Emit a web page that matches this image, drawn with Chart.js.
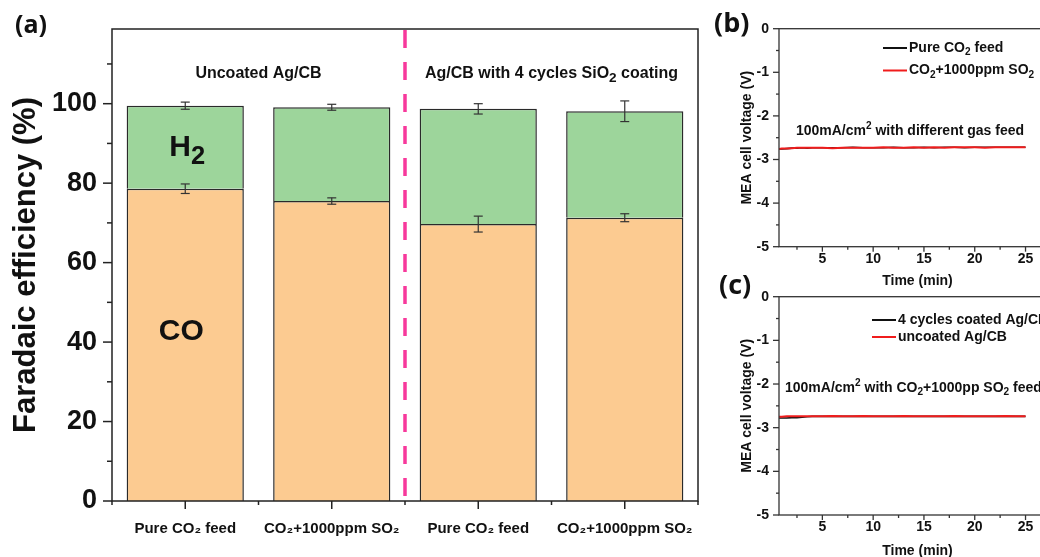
<!DOCTYPE html>
<html><head><meta charset="utf-8">
<script src="https://cdn.jsdelivr.net/npm/chart.js@4/dist/chart.umd.min.js"></script>
<style>
html,body{margin:0;padding:0;background:#fff;overflow:hidden;width:1040px;height:557px;position:relative;}
.panel{position:absolute;}
canvas{display:block;}
</style></head><body>
<div class="panel" style="left:0;top:0;width:705px;height:557px"><canvas id="ca" width="705" height="557"></canvas></div>
<div class="panel" style="left:700px;top:0;width:361px;height:290px"><canvas id="cb" width="361" height="290"></canvas></div>
<div class="panel" style="left:700px;top:270px;width:361px;height:290px"><canvas id="cc" width="361" height="290"></canvas></div>
<script>
// ---------- data ----------
const categories = ['Pure CO₂ feed', 'CO₂+1000ppm SO₂', 'Pure CO₂ feed', 'CO₂+1000ppm SO₂'];
const groupLabels = ['Uncoated Ag/CB', 'Ag/CB with 4 cycles SiO₂ coating'];
const coFE = [78.6, 75.5, 69.7, 71.3];
const h2FE = [20.9, 23.6, 29.0, 26.8];
const coErr = [1.2, 0.8, 2.0, 1.0];
const totalErr = [0.9, 0.75, 1.3, 2.6];
const feTicks = [0, 20, 40, 60, 80, 100];
const feMinorTicks = [10, 30, 50, 70, 90, 110];

const timeMin = [0.73, 1, 1.5, 2, 2.5, 3, 3.5, 4, 5, 6, 7, 8, 9, 10, 11, 12, 13, 14, 15, 16, 17, 18, 19, 20, 21, 22, 23, 24, 25];
const pureCO2Volt = [-2.76, -2.76, -2.75, -2.74, -2.74, -2.73, -2.74, -2.73, -2.73, -2.73, -2.73, -2.72, -2.73, -2.73, -2.73, -2.72, -2.73, -2.73, -2.72, -2.73, -2.72, -2.72, -2.73, -2.72, -2.72, -2.72, -2.72, -2.72, -2.72];
const so2Volt = [-2.76, -2.75, -2.75, -2.74, -2.73, -2.73, -2.73, -2.73, -2.73, -2.74, -2.73, -2.73, -2.73, -2.73, -2.72, -2.73, -2.73, -2.72, -2.73, -2.72, -2.73, -2.72, -2.72, -2.72, -2.73, -2.72, -2.72, -2.72, -2.72];
const coatedVolt = [-2.78, -2.78, -2.78, -2.77, -2.77, -2.76, -2.75, -2.74, -2.74, -2.74, -2.74, -2.74, -2.74, -2.74, -2.74, -2.74, -2.74, -2.74, -2.74, -2.74, -2.74, -2.74, -2.74, -2.74, -2.74, -2.74, -2.74, -2.74, -2.74];
const uncoatedVolt = [-2.75, -2.75, -2.74, -2.74, -2.74, -2.74, -2.74, -2.74, -2.74, -2.73, -2.74, -2.74, -2.73, -2.74, -2.74, -2.74, -2.73, -2.74, -2.74, -2.74, -2.74, -2.73, -2.74, -2.74, -2.74, -2.74, -2.73, -2.74, -2.74];
const voltTicks = [0, -1, -2, -3, -4, -5];
const voltMinorTicks = [-0.5, -1.5, -2.5, -3.5, -4.5];
const timeTicks = [5, 10, 15, 20, 25];
const timeMinorTicks = [2.5, 7.5, 12.5, 17.5, 22.5, 27.5];

// ---------- helpers ----------
const FAM = "'Liberation Sans', Arial, sans-serif";
const TAGFAM = "'Open Sans', Lato, sans-serif";
const INK = '#111';
function drawRich(ctx, s, x, y, size, align, weight, fam, subScale) {
  fam = fam || FAM; weight = weight || 'bold'; subScale = subScale || 0.72;
  const segs = [];
  for (const ch of s) {
    let k = 0, t = ch;
    if (ch === '₂') { k = 1; t = '2'; }
    else if (ch === '²') { k = -1; t = '2'; }
    const last = segs[segs.length - 1];
    if (last && last.k === k) last.t += t; else segs.push({ t, k });
  }
  let w = 0;
  segs.forEach(g => { ctx.font = `${weight} ${g.k ? size * subScale : size}px ${fam}`; g.w = ctx.measureText(g.t).width; w += g.w; });
  let cx = align === 'center' ? x - w / 2 : align === 'right' ? x - w : x;
  ctx.textBaseline = 'middle'; ctx.textAlign = 'left'; ctx.fillStyle = INK;
  segs.forEach(g => {
    ctx.font = `${weight} ${g.k ? size * subScale : size}px ${fam}`;
    ctx.fillText(g.t, cx, y + (g.k === 1 ? size * 0.32 : g.k === -1 ? -size * 0.32 : 0));
    cx += g.w;
  });
}
function seg(ctx, x1, y1, x2, y2) { ctx.beginPath(); ctx.moveTo(x1, y1); ctx.lineTo(x2, y2); ctx.stroke(); }
function noPad(s) { s.paddingLeft = 0; s.paddingRight = 0; s.paddingTop = 0; s.paddingBottom = 0; }

// ---------- panel (a) ----------
const errorBarPlugin = {
  id: 'errbars',
  afterDatasetsDraw(chart) {
    const { ctx } = chart; const y = chart.scales.y;
    ctx.save(); ctx.strokeStyle = '#333'; ctx.lineWidth = 1.2;
    chart.data.datasets.forEach((ds, di) => {
      const meta = chart.getDatasetMeta(di);
      meta.data.forEach((bar, i) => {
        let top = 0; for (let k = 0; k <= di; k++) top += chart.data.datasets[k].data[i];
        const e = ds.errors[i];
        const y1 = y.getPixelForValue(top + e), y2 = y.getPixelForValue(top - e);
        const x = bar.x, cw = 4.5;
        seg(ctx, x, y1, x, y2); seg(ctx, x - cw, y1, x + cw, y1); seg(ctx, x - cw, y2, x + cw, y2);
      });
    });
    ctx.restore();
  }
};
const panelAPlugin = {
  id: 'panelA',
  afterDraw(chart) {
    const { ctx, chartArea: a } = chart; const x = chart.scales.x, y = chart.scales.y;
    ctx.save();
    const xs = x.getPixelForValue(1.5);
    ctx.strokeStyle = '#f7399c'; ctx.lineWidth = 3.5; ctx.setLineDash([18, 14]);
    seg(ctx, xs, a.top + 1, xs, a.bottom); ctx.setLineDash([]);
    ctx.strokeStyle = '#222'; ctx.lineWidth = 1.5;
    ctx.strokeRect(a.left, a.top, a.right - a.left, a.bottom - a.top);
    feTicks.forEach(v => { const p = y.getPixelForValue(v); seg(ctx, a.left - 9, p, a.left, p); });
    feMinorTicks.forEach(v => { const p = y.getPixelForValue(v); seg(ctx, a.left - 5, p, a.left, p); });
    categories.forEach((c, i) => { const p = x.getPixelForValue(i); seg(ctx, p, a.bottom, p, a.bottom + 8); });
    for (let i = 0; i <= categories.length; i++) { const p = x.getPixelForValue(i - 0.5); seg(ctx, p, a.bottom, p, a.bottom + 4); }
    drawRich(ctx, groupLabels[0], x.getPixelForValue(0.5), y.getPixelForValue(107.7), 16, 'center');
    drawRich(ctx, groupLabels[1], x.getPixelForValue(2.5), y.getPixelForValue(107.7), 16, 'center', 'bold', FAM, 0.85);
    drawRich(ctx, 'H₂', x.getPixelForValue(0) + 2, y.getPixelForValue(89), 30, 'center', 'bold', FAM, 0.85);
    drawRich(ctx, 'CO', x.getPixelForValue(0) - 4, y.getPixelForValue(42.5), 30, 'center');
    drawRich(ctx, '(a)', 15, 26, 25, 'left', 'bold', TAGFAM);
    ctx.restore();
  }
};

new Chart(document.getElementById('ca'), {
  type: 'bar',
  data: {
    labels: categories,
    datasets: [
      { label: 'CO', data: coFE, errors: coErr, backgroundColor: '#fccb91', borderColor: '#2a2a2a', borderWidth: 1.5, barPercentage: 0.8, categoryPercentage: 1 },
      { label: 'H₂', data: h2FE, errors: totalErr, backgroundColor: '#9dd59b', borderColor: '#2a2a2a', borderWidth: 1.5, barPercentage: 0.8, categoryPercentage: 1 }
    ]
  },
  options: {
    responsive: false, animation: false, devicePixelRatio: 1,
    layout: { padding: { top: 29, right: 7, left: 0, bottom: 0 } },
    plugins: { legend: { display: false }, tooltip: { enabled: false } },
    scales: {
      x: {
        stacked: true, grid: { display: false, drawTicks: false }, border: { display: false },
        ticks: { color: INK, font: { family: FAM, size: 15, weight: 'bold' }, padding: 19, maxRotation: 0, autoSkip: false },
        afterFit: s => { s.height = 56; noPad(s); }
      },
      y: {
        stacked: true, min: 0, max: 118.8,
        grid: { display: false, drawTicks: false }, border: { display: false },
        ticks: { color: INK, font: { family: FAM, size: 27, weight: 'bold' }, padding: 15 },
        afterBuildTicks: s => { s.ticks = feTicks.map(v => ({ value: v })); },
        afterFit: s => { s.width = 112; noPad(s); },
        title: { display: true, text: 'Faradaic efficiency (%)', color: INK, font: { family: FAM, size: 31, weight: 'bold' }, padding: { top: 8, bottom: 0 } }
      }
    }
  },
  plugins: [errorBarPlugin, panelAPlugin]
});

// ---------- panels (b), (c) ----------
function voltPlugin(cfg) {
  return {
    id: 'volt' + cfg.tag,
    afterDraw(chart) {
      const { ctx, chartArea: a } = chart; const x = chart.scales.x, y = chart.scales.y;
      ctx.save();
      ctx.strokeStyle = '#333'; ctx.lineWidth = 1.3;
      ctx.strokeRect(a.left, a.top, a.right - a.left, a.bottom - a.top);
      voltTicks.forEach(v => { const p = y.getPixelForValue(v); seg(ctx, a.left - 6, p, a.left, p); });
      voltMinorTicks.forEach(v => { const p = y.getPixelForValue(v); seg(ctx, a.left - 3, p, a.left, p); });
      timeTicks.forEach(v => { const p = x.getPixelForValue(v); seg(ctx, p, a.bottom, p, a.bottom + 5); });
      timeMinorTicks.forEach(v => { const p = x.getPixelForValue(v); seg(ctx, p, a.bottom, p, a.bottom + 3); });
      chart.data.datasets.forEach((ds, i) => {
        const ly = cfg.legendY[i];
        ctx.strokeStyle = ds.borderColor; ctx.lineWidth = 2;
        seg(ctx, cfg.legendX, ly, cfg.legendX + 24, ly);
        drawRich(ctx, ds.label, cfg.legendX + 26, ly, 14, 'left');
      });
      drawRich(ctx, cfg.note, cfg.noteX, cfg.noteY, 14, cfg.noteAlign);
      drawRich(ctx, cfg.tag, cfg.tagX, cfg.tagY, 27, 'left', 'bold', TAGFAM);
      ctx.restore();
    }
  };
}
function voltChart(id, labels, blackVals, redVals, padTop, xAxisH, cfg) {
  return new Chart(document.getElementById(id), {
    type: 'line',
    data: {
      datasets: [
        { label: labels[0], data: timeMin.map((t, i) => ({ x: t, y: blackVals[i] })), borderColor: '#111', borderWidth: 1.6, pointRadius: 0, tension: 0, order: 2 },
        { label: labels[1], data: timeMin.map((t, i) => ({ x: t, y: redVals[i] })), borderColor: '#f01c1c', borderWidth: 2, pointRadius: 0, tension: 0, order: 1 }
      ]
    },
    options: {
      responsive: false, animation: false, devicePixelRatio: 1,
      layout: { padding: { top: padTop, right: 5, left: 0, bottom: 0 } },
      plugins: { legend: { display: false }, tooltip: { enabled: false } },
      scales: {
        x: {
          type: 'linear', min: 0.73, max: 28,
          grid: { display: false, drawTicks: false }, border: { display: false },
          ticks: { color: INK, font: { family: FAM, size: 14, weight: 'bold' }, padding: 4 },
          afterBuildTicks: s => { s.ticks = timeTicks.map(v => ({ value: v })); },
          afterFit: s => { s.height = xAxisH; noPad(s); },
          title: { display: true, text: 'Time (min)', color: INK, font: { family: FAM, size: 14, weight: 'bold' }, padding: { top: 0, bottom: 0 } }
        },
        y: {
          min: -5, max: 0,
          grid: { display: false, drawTicks: false }, border: { display: false },
          ticks: { color: INK, font: { family: FAM, size: 14, weight: 'bold' }, padding: 10 },
          afterBuildTicks: s => { s.ticks = voltTicks.map(v => ({ value: v })); },
          afterFit: s => { s.width = 79; noPad(s); },
          title: { display: true, text: 'MEA cell voltage (V)', color: INK, font: { family: FAM, size: 14, weight: 'bold' }, padding: { top: 39, bottom: 0 } }
        }
      }
    },
    plugins: [voltPlugin(cfg)]
  });
}

voltChart('cb', ['Pure CO₂ feed', 'CO₂+1000ppm SO₂'], pureCO2Volt, so2Volt, 28.7, 43.3,
  { tag: '(b)', tagX: 14, tagY: 24, legendX: 183, legendY: [48, 70.5], note: '100mA/cm² with different gas feed', noteX: 210, noteY: 131, noteAlign: 'center' });
voltChart('cc', ['4 cycles coated Ag/CB', 'uncoated Ag/CB'], coatedVolt, uncoatedVolt, 26.7, 45,
  { tag: '(c)', tagX: 19, tagY: 16, legendX: 172, legendY: [50, 67], note: '100mA/cm² with CO₂+1000pp SO₂ feed', noteX: 85, noteY: 118, noteAlign: 'left' });
</script>
</body></html>
